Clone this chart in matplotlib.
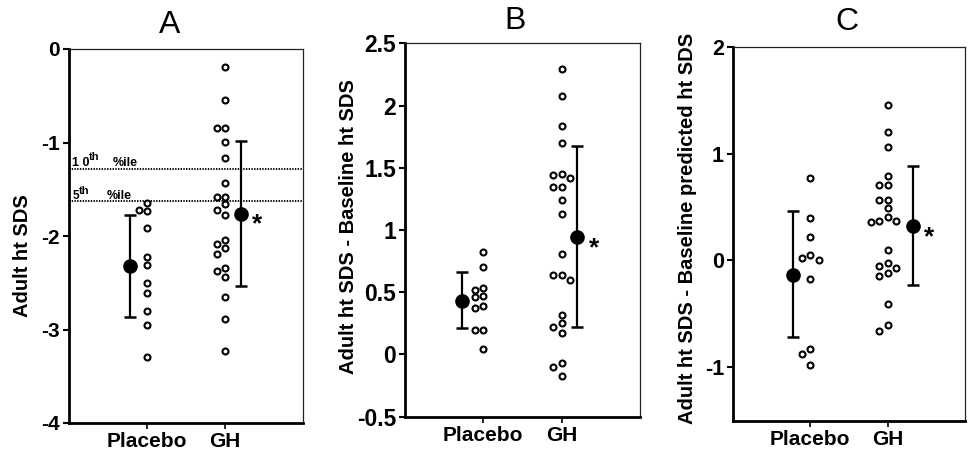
import matplotlib
matplotlib.use("Agg")
import matplotlib.pyplot as plt
import numpy as np

plt.rcParams['font.family'] = ['Liberation Sans', 'DejaVu Sans']
plt.rcParams['axes.unicode_minus'] = False

# ---------------- data ----------------
groups = ["Placebo", "GH"]

a_placebo = [-1.65, -1.72, -1.73, -1.91, -2.22, -2.31, -2.50, -2.61, -2.80, -2.95, -3.29]
a_gh = [-0.19, -0.55, -0.84, -0.84, -0.99, -1.17, -1.43, -1.58, -1.58, -1.66, -1.72,
        -1.78, -2.04, -2.09, -2.13, -2.19, -2.34, -2.37, -2.44, -2.65, -2.89, -3.23]
a_mean = [-2.325, -1.76]
a_lower = [-2.87, -2.53]
a_upper = [-1.78, -0.98]
a_pct_values = [-1.28, -1.63]
a_pct_labels = [("1 0", "th", "%ile"), ("5", "th", "%ile")]
a_yticks = [0, -1, -2, -3, -4]

b_placebo = [0.82, 0.70, 0.53, 0.52, 0.47, 0.46, 0.39, 0.375, 0.195, 0.195, 0.046]
b_gh = [2.29, 2.08, 1.835, 1.70, 1.45, 1.44, 1.42, 1.345, 1.345, 1.24, 1.13,
        0.81, 0.64, 0.64, 0.60, 0.32, 0.25, 0.22, 0.17, -0.07, -0.10, -0.17]
b_mean = [0.43, 0.94]
b_lower = [0.21, 0.22]
b_upper = [0.66, 1.675]
b_yticks = [2.5, 2, 1.5, 1, 0.5, 0, -0.5]

c_placebo = [0.77, 0.40, 0.22, 0.05, 0.025, 0.005, -0.17, -0.83, -0.88, -0.98]
c_gh = [1.45, 1.20, 1.06, 0.79, 0.71, 0.71, 0.57, 0.57, 0.49, 0.41, 0.37,
        0.37, 0.36, 0.10, -0.02, -0.05, -0.07, -0.12, -0.15, -0.41, -0.60, -0.66]
c_mean = [-0.14, 0.32]
c_lower = [-0.72, -0.23]
c_upper = [0.46, 0.88]
c_yticks = [2, 1, 0, -1]

titles = ["A", "B", "C"]
ylabels = ["Adult ht SDS",
           "Adult ht SDS - Baseline ht SDS",
           "Adult ht SDS - Baseline predicted ht SDS"]

# ---------------- layout ----------------
W, H = 975, 451
fig = plt.figure(figsize=(W / 100, H / 100), dpi=100)


def add_axes(l, t, r, b):
    return fig.add_axes([l / W, 1 - b / H, (r - l) / W, (b - t) / H])


def swarm(values, px_per_y, step_px=8.3, min_px=7.3):
    vals = np.asarray(values, dtype=float)
    order = np.argsort(-vals, kind="stable")
    placed = []
    offs = np.zeros(len(vals))
    cands = [0, -1, 1, -2, 2, -3, 3]
    for i in order:
        y = vals[i] * px_per_y
        x = 0.0
        for c in cands:
            x = c * step_px
            if all(np.hypot(x - px, y - py) >= min_px for px, py in placed):
                break
        placed.append((x, y))
        offs[i] = x
    return offs


def panel(box, placebo, gh, mean, lower, upper, ylim, yticks, ytick_fs, mean_px):
    l, t, r, b = box
    ax = add_axes(l, t, r, b)
    ax.set_xlim(0, 3)
    ax.set_ylim(*ylim)
    px_per_x = (r - l) / 3.0
    px_per_y = (b - t) / (ylim[1] - ylim[0])

    for k, vals in enumerate([placebo, gh]):
        offs = swarm(vals, px_per_y)
        ax.plot(k + 1 + offs / px_per_x, vals, "o", ms=4.3, mfc="white",
                mec="black", mew=1.5, ls="none", zorder=3, clip_on=False)

    for k in range(2):
        xm = k + 1 + mean_px[k] / px_per_x
        ax.errorbar([xm], [mean[k]],
                    yerr=[[mean[k] - lower[k]], [upper[k] - mean[k]]],
                    fmt="o", ms=9.5, color="black", ecolor="black",
                    elinewidth=1.6, capsize=4.6, capthick=1.8, zorder=4)
        if k == 1:
            ax.annotate("*", xy=(xm, mean[k]), xytext=(12.0, -13.0),
                        textcoords="offset points", ha="center", va="baseline",
                        fontsize=19, fontweight="bold")

    ax.set_yticks(yticks)
    ax.set_yticklabels(["%g" % v for v in yticks], fontsize=ytick_fs,
                       fontweight="bold")
    ax.set_xticks([1, 2])
    ax.set_xticklabels(groups, fontsize=15, fontweight="bold")
    ax.tick_params(axis="y", direction="out", length=4.5, width=1.5, pad=2)
    ax.tick_params(axis="x", direction="out", length=4.5, width=1.2, pad=2)
    for s in ["left", "bottom"]:
        ax.spines[s].set_linewidth(2.0)
    for s in ["top", "right"]:
        ax.spines[s].set_linewidth(0.9)
        ax.spines[s].set_color("#222222")
    return ax


axA = panel((69, 49, 303, 423), a_placebo, a_gh, a_mean, a_lower, a_upper,
            (-4, 0), a_yticks, 15, (-16.7, 15.7))
axB = panel((405, 43.3, 640, 416.7), b_placebo, b_gh, b_mean, b_lower, b_upper,
            (-0.5, 2.5), b_yticks, 16.5, (-21.6, 15.3))
axC = panel((733, 46.7, 965, 420.7), c_placebo, c_gh, c_mean, c_lower, c_upper,
            (-1.5, 2), c_yticks, 15.5, (-17, 25))

# percentile reference lines in panel A
pct_text_pos = [((2.2, 2.0), (14.6, 6.5), (31.7, 2.0)),
                ((2.9, 2.0), (7.4, 5.5), (27.4, 2.0))]
pct_text_fs = [(9, 8, 9), (8.5, 8, 9)]
for val, labs, poss, fss in zip(a_pct_values, a_pct_labels, pct_text_pos, pct_text_fs):
    axA.axhline(val, color="black", lw=1.4, ls=(0, (0.7, 0.7)), zorder=2)
    for txt, pos, fs in zip(labs, poss, fss):
        axA.annotate(txt, xy=(0, val), xycoords=("axes fraction", "data"),
                     xytext=pos, textcoords="offset points", ha="left",
                     va="baseline", fontsize=fs, fontweight="bold")

# titles
for txt, x, y in zip(titles, (170, 515, 847), (25, 21, 22)):
    fig.text(x / W, 1 - y / H, txt, ha="center", va="center", fontsize=23)

# y labels
for txt, x, y in zip(ylabels, (23, 348, 687.5), (255.5, 226.7, 228)):
    fig.text(x / W, 1 - y / H, txt, rotation=90, ha="center", va="center",
             fontsize=14.5, fontweight="bold")

fig.savefig("out.png", dpi=100)
